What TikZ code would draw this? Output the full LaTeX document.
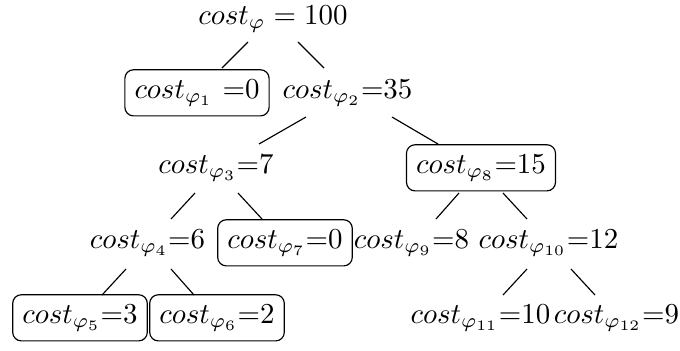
\documentclass[tikz,border=0pt]{standalone}
\begin{document}
\begin{tikzpicture}[x=0.346pt,y=-0.346pt,
  lbl/.style={anchor=base,inner sep=0.3333em},
  boxed/.style={lbl,draw,rounded corners=3pt},
  edge/.style={line width=0.4pt}]
\useasboundingbox (0,0) rectangle (680,350);
% nodes
\node[lbl]   (r)   at (273,24)    {$cost_\varphi = 100$};
\node[boxed] (p1)  at (197,98)    {$cost_{\varphi_1}\ {=}0$};
\node[lbl]   (p2)  at (347.5,98)  {$cost_{\varphi_2}{=}35$};
\node[lbl]   (p3)  at (216,173)   {$cost_{\varphi_3}{=}7$};
\node[boxed] (p8)  at (481,173)   {$cost_{\varphi_8}{=}15$};
\node[lbl]   (p4)  at (147.5,248) {$cost_{\varphi_4}{=}6$};
\node[boxed] (p7)  at (285,248)   {$cost_{\varphi_7}{=}0$};
\node[lbl]   (p9)  at (411.5,248) {$cost_{\varphi_9}{=}8$};
\node[lbl]   (p10) at (548.5,248) {$cost_{\varphi_{10}}{=}12$};
\node[boxed] (p5)  at (80,323)    {$cost_{\varphi_5}{=}3$};
\node[boxed] (p6)  at (217,323)   {$cost_{\varphi_6}{=}2$};
\node[lbl]   (p11) at (480.5,323) {$cost_{\varphi_{11}}{=}10$};
\node[lbl]   (p12) at (616.5,323) {$cost_{\varphi_{12}}{=}9$};
% edges
\draw[edge] ([shift={(-25,18)}]r.base)    -- ([shift={(25,-30)}]p1.base);
\draw[edge] ([shift={(25,18)}]r.base)     -- ([shift={(-23.5,-30)}]p2.base);
\draw[edge] ([shift={(-41.5,19)}]p2.base) -- ([shift={(43,-29)}]p3.base);
\draw[edge] ([shift={(44.5,19)}]p2.base)  -- ([shift={(-43,-29)}]p8.base);
\draw[edge] ([shift={(-21,20)}]p3.base)   -- ([shift={(23.5,-29)}]p4.base);
\draw[edge] ([shift={(22,20)}]p3.base)    -- ([shift={(-23,-29)}]p7.base);
\draw[edge] ([shift={(-22,20)}]p8.base)   -- ([shift={(24.5,-29)}]p9.base);
\draw[edge] ([shift={(22,20)}]p8.base)    -- ([shift={(-21.5,-29)}]p10.base);
\draw[edge] ([shift={(-21.5,21)}]p4.base) -- ([shift={(22,-28)}]p5.base);
\draw[edge] ([shift={(23.5,21)}]p4.base)  -- ([shift={(-23,-28)}]p6.base);
\draw[edge] ([shift={(-21.5,21)}]p10.base) -- ([shift={(22.5,-28)}]p11.base);
\draw[edge] ([shift={(22.5,21)}]p10.base) -- ([shift={(-21.5,-28)}]p12.base);
\end{tikzpicture}
\end{document}
